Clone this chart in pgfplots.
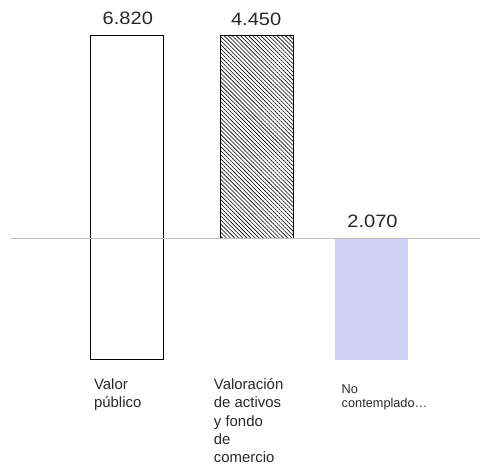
\documentclass[border=0pt]{standalone}
\usepackage{fontspec}
\setmainfont{Liberation Sans}
\newfontfamily\numfont[FakeStretch=1.12]{Liberation Sans}
\usepackage{pgfplots}
\pgfplotsset{compat=1.18}
\usetikzlibrary{patterns.meta}
\definecolor{lavanda}{RGB}{208,208,242}
\definecolor{ejegris}{RGB}{192,192,192}
\definecolor{texto}{RGB}{40,40,40}
\begin{document}
\begin{tikzpicture}
\begin{axis}[
    scale only axis,
    width=481bp, height=469bp,
    xmin=0, xmax=481,
    ymin=-4.838, ymax=5.005,
    axis line style={draw=none},
    major tick length=0pt,
    ytick=\empty,
    xtick={94,214,342},
    xticklabels={
        {\rule{0pt}{13pt}Valor\\público},
        {\rule{0pt}{13pt}Valoración\\de activos\\y fondo\\de\\comercio},
        {\rule{0pt}{16.3pt}\fontsize{12.8}{15}\selectfont No\\[-3.3pt]{\fontsize{12.8}{15}\selectfont contemplado…}}
    },
    xticklabel style={anchor=north west, inner sep=0pt, align=left,
        yshift=92bp, font=\fontsize{15}{18.3}\selectfont, text=texto},
    clip=false,
]
% barra 1: valor publico, de -2.55 a 4.27 (parte positiva y negativa)
\addplot[ybar, bar width=73bp, bar shift=0pt, fill=white, draw=black, line width=0.8pt]
    coordinates {(127,4.27)};
\addplot[ybar, bar width=73bp, bar shift=0pt, fill=white, draw=black, line width=0.8pt]
    coordinates {(127,-2.55)};
% barra 2: valoracion de activos
\addplot[ybar, bar width=73bp, bar shift=0pt, draw=black, line width=0.8pt,
    pattern={Lines[angle=-45, distance=2.9pt, line width=0.6pt]}, pattern color=black]
    coordinates {(257.5,4.26)};
% barra 3: no contemplado
\addplot[ybar, bar width=73bp, bar shift=0pt, fill=lavanda, draw=none]
    coordinates {(372,-2.55)};
% linea base
\addplot[ejegris, line width=1.3pt, mark=none] coordinates {(11,0) (481,0)};
% etiquetas de valor
\addplot[draw=none, mark=none, nodes near coords, point meta=explicit symbolic,
    nodes near coords style={anchor=base, inner sep=0pt, yshift=10.5bp,
        font=\numfont\fontsize{18}{20}\selectfont, text=texto}]
    coordinates {(128,4.27)[6.820] (256.5,4.26)[4.450] (373,0)[2.070]};
\end{axis}
\end{tikzpicture}
\end{document}
